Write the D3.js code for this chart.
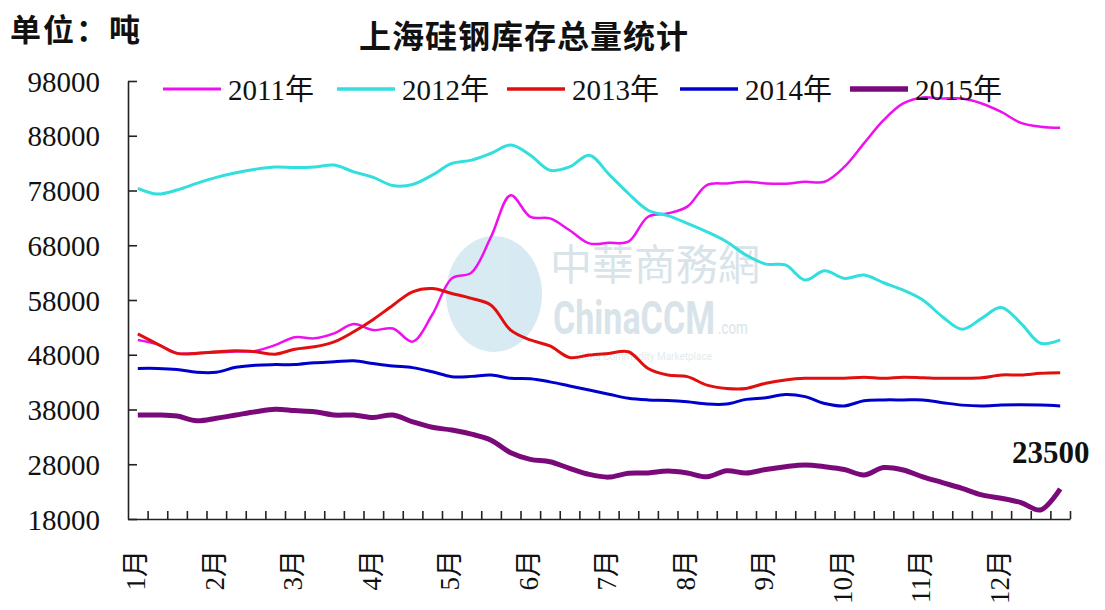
<!DOCTYPE html>
<html>
<head>
<meta charset="utf-8">
<script src="https://cdn.jsdelivr.net/npm/d3@7"></script>
<style>
  body { margin: 0; background: #fff; }
  text { font-family: "Liberation Serif", "Noto Sans CJK SC", serif; fill: #111; }
</style>
</head>
<body>
<svg id="chart"></svg>
<script>
// weekly stock, 4 points per month
const months = ["1月", "2月", "3月", "4月", "5月", "6月", "7月", "8月", "9月", "10月", "11月", "12月"];
const years = ["2011年", "2012年", "2013年", "2014年", "2015年"];
const yTicks = [18000, 28000, 38000, 48000, 58000, 68000, 78000, 88000, 98000];

const s2011 = [50700, 49900, 48300, 48300, 48400, 48600, 48700, 49750, 51200, 51000, 51900, 53600,
  52500, 52800, 50400, 55300, 61950, 63000, 69550, 77150, 73200, 72900, 70750, 68350,
  68450, 68650, 73200, 73800, 75050, 79000, 79300, 79600, 79300, 79250, 79600, 79600,
  82300, 86600, 90850, 93900, 95000, 94800, 94800, 93900, 92350, 90350, 89650, 89450];
const s2012 = [78400, 77350, 78100, 79300, 80400, 81250, 81900, 82300, 82200, 82300, 82650, 81400,
  80400, 78900, 79100, 80800, 82950, 83550, 84800, 86300, 84450, 81700, 82300, 84450,
  81000, 77450, 74400, 73400, 72000, 70450, 68650, 66200, 64550, 64400, 61650, 63350,
  61950, 62550, 61150, 59800, 58000, 54950, 52650, 54650, 56650, 53750, 50100, 50700];
const s2013 = [51800, 49950, 48250, 48250, 48550, 48750, 48550, 48100, 49000, 49450, 50350, 52200,
  54450, 57050, 59500, 60100, 59200, 58300, 57050, 52500, 50700, 49600, 47500, 47950,
  48250, 48550, 45500, 44300, 44000, 42450, 41850, 41850, 42800, 43400, 43700, 43700,
  43700, 43900, 43700, 43900, 43800, 43700, 43700, 43800, 44300, 44300, 44600, 44700];
const s2014 = [45500, 45500, 45300, 44800, 44800, 45700, 46100, 46200, 46200, 46550, 46700, 46900,
  46400, 45950, 45650, 44900, 44000, 44050, 44300, 43700, 43600, 43050, 42300, 41550,
  40800, 40050, 39750, 39650, 39400, 39000, 39000, 39850, 40150, 40750, 40350, 39100,
  38650, 39600, 39750, 39750, 39750, 39250, 38800, 38650, 38800, 38850, 38800, 38650];
const s2015 = [37000, 37000, 36800, 35950, 36400, 37000, 37600, 38050, 37800, 37600, 37000, 37000,
  36550, 37000, 35750, 34750, 34250, 33500, 32400, 30100, 28900, 28450, 27250, 26150,
  25650, 26350, 26400, 26750, 26400, 25700, 26800, 26400, 27050, 27550, 27850, 27550,
  27050, 26050, 27400, 26950, 25700, 24650, 23600, 22400, 21800, 21000, 19650, 23500];

const seriesValues = [s2011, s2012, s2013, s2014, s2015];
const colors = ["#ee10ee", "#33dede", "#e01010", "#0000cc", "#7a0a7a"];
const widths = [2.5, 3, 3, 3, 5];

const width = 1105;
const height = 610;
const plot = { left: 128, right: 1070, top: 81, bottom: 519 };

const svg = d3.select('svg#chart').attr('width', width).attr('height', height);
svg.append('rect').attr('width', width).attr('height', height).attr('fill', '#fff');

const nPts = s2011.length;
const xBand = d3.scaleBand().domain(d3.range(nPts)).range([plot.left, plot.right]);
const xEdge = d3.scaleLinear().domain([0, nPts]).range([plot.left, plot.right]);
const yScale = d3.scaleLinear().domain([18000, 98000]).range([plot.bottom, plot.top]);
const px = i => xBand(i) + xBand.bandwidth() / 2;

// watermark (faint)
const wm = svg.append('g').attr('opacity', 0.55);
wm.append('ellipse').attr('cx', 494).attr('cy', 294).attr('rx', 48).attr('ry', 58).attr('fill', '#b8d8e8');
wm.append('text').attr('x', 550).attr('y', 280).style('font-family', 'Noto Sans CJK TC')
  .style('font-size', '42px').style('fill', '#b9ced9').text('中華商務網');
const brand = wm.append('text').attr('transform', 'translate(553,334) scale(0.74,1)')
  .style('font-family', 'Roboto').style('font-size', '46px').style('font-weight', 'bold').style('fill', '#b9ced9');
brand.append('tspan').text('ChinaCCM');
brand.append('tspan').attr('dx', 4).style('font-size', '18px').style('font-weight', 'normal').text('.com');
wm.append('text').attr('x', 575).attr('y', 360).style('font-family', 'Roboto')
  .style('font-size', '10px').style('fill', '#c9dbe3').text('China Commodity Marketplace');

// y axis
const yAxis = d3.axisLeft(yScale).tickValues(yTicks).tickSizeInner(-9).tickSizeOuter(0).tickPadding(28)
  .tickFormat(d3.format('d'));
const gy = svg.append('g').attr('transform', 'translate(' + plot.left + ',0)').call(yAxis);
gy.selectAll('text').style('font-size', '29px').attr('dy', '0.35em').attr('fill', '#222');
gy.selectAll('line, path').attr('stroke', '#222').attr('stroke-width', 1.6);

// x axis: ticks on category edges, labels every 4 weeks
const xTickAxis = d3.axisBottom(xEdge).tickValues(d3.range(1, nPts + 1)).tickSizeInner(-8).tickSizeOuter(0).tickFormat('');
const gx = svg.append('g').attr('transform', 'translate(0,' + plot.bottom + ')').call(xTickAxis);
gx.selectAll('line, path').attr('stroke', '#222').attr('stroke-width', 1.6);

const xLabelAxis = d3.axisBottom(xBand).tickValues(d3.range(0, nPts, 4)).tickSize(0)
  .tickFormat(i => months[i / 4]);
const gxl = svg.append('g').attr('transform', 'translate(0,' + plot.bottom + ')').call(xLabelAxis);
gxl.select('.domain').remove();
gxl.selectAll('text')
  .attr('transform', 'translate(-2,31) rotate(-90)')
  .attr('x', 0).attr('y', 0).attr('dy', '0.35em')
  .attr('text-anchor', 'end')
  .style('font-size', '27px').attr('fill', '#222');

// lines
const line = d3.line().x((d, i) => px(i)).y(d => yScale(d)).curve(d3.curveCatmullRom.alpha(0.5));
svg.append('g').selectAll('path').data(seriesValues).enter().append('path')
  .attr('d', d => line(d))
  .attr('fill', 'none')
  .attr('stroke', (d, i) => colors[i])
  .attr('stroke-width', (d, i) => widths[i])
  .attr('stroke-linejoin', 'round');

// last value label
svg.append('text').attr('x', 1012).attr('y', 463)
  .style('font-size', '31px').style('font-weight', 'bold')
  .text(d3.format('d')(s2015[nPts - 1]));

// legend
const legendX = [163, 337, 507, 680, 850];
const legend = svg.append('g').selectAll('g').data(years).enter().append('g')
  .attr('transform', (d, i) => 'translate(' + legendX[i] + ',89)');
legend.append('line').attr('x1', 0).attr('x2', 58).attr('y1', 0).attr('y2', 0)
  .attr('stroke', (d, i) => colors[i]).attr('stroke-width', (d, i) => widths[i] + 0.5);
legend.append('text').attr('x', 65).attr('y', 11).style('font-size', '29px').text(d => d);

// titles
svg.append('text').attr('x', 524).attr('y', 48).attr('text-anchor', 'middle')
  .style('font-family', 'Noto Sans CJK SC').style('font-size', '32px').style('font-weight', 'bold')
  .attr('letter-spacing', 1).text('上海硅钢库存总量统计');
svg.append('text').attr('x', 10).attr('y', 41)
  .style('font-family', 'Noto Sans CJK SC').style('font-size', '31px').style('font-weight', 'bold')
  .attr('letter-spacing', 2).text('单位：吨');
</script>
</body>
</html>
